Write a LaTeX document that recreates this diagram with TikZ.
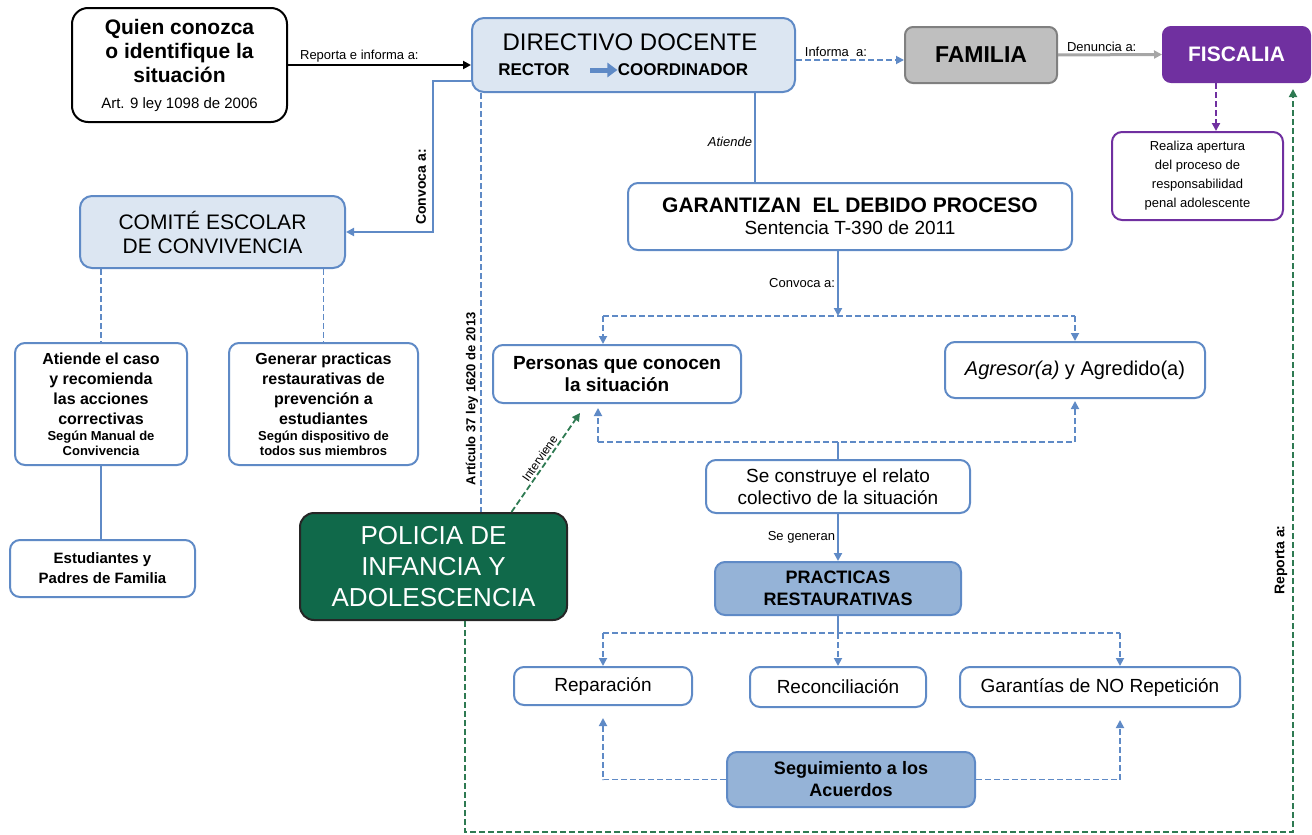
\documentclass[tikz,border=0pt]{standalone}
\usepackage{fontspec}
\setmainfont{Liberation Sans}
\usetikzlibrary{arrows.meta}
\newcommand{\fsz}[2]{\fontsize{#1}{#2}\selectfont}
\definecolor{linkblue}{HTML}{5F8AC6}
\definecolor{paleblue}{HTML}{DCE6F2}
\definecolor{midblue}{HTML}{95B3D7}
\definecolor{policegreen}{HTML}{10694A}
\definecolor{loopgreen}{HTML}{2E7A52}
\definecolor{fispurple}{HTML}{7030A0}
\definecolor{famgray}{HTML}{BFBFBF}
\tikzset{
  box/.style={draw=linkblue, line width=1pt, rounded corners=5pt, fill=white, align=center, inner sep=2pt},
  lightbox/.style={box, fill=paleblue, rounded corners=6pt},
  midbox/.style={box, fill=midblue},
  lbl/.style={font=\fsz{6.5}{7.5}, inner sep=1pt},
  arr/.style={-{Triangle[length=4pt,width=4pt]}},
  link/.style={draw=linkblue, line width=1pt},
  dlink/.style={draw=linkblue, line width=0.9pt, dash pattern=on 3pt off 1.5pt},
  gdlink/.style={draw=loopgreen, line width=0.9pt, dash pattern=on 3pt off 1.5pt},
  pdlink/.style={draw=fispurple, line width=1pt, dash pattern=on 3pt off 1.5pt},
}
\begin{document}
\begin{tikzpicture}[x=0.5pt,y=-0.5pt]
\useasboundingbox (0,0) rectangle (1312,835);
% top row
\node[box, draw=black, rounded corners=8pt, minimum width=107.5pt, minimum height=57pt,
  font=\fsz{10.5}{12}\bfseries] (quien) at (179.5,65)
  {Quien conozca\\o identifique la\\situación\\[1pt]{\fsz{7.5}{8}\mdseries Art. 9 ley 1098 de 2006}};
\node[lightbox, minimum width=161.5pt, minimum height=37pt] (directivo) at (633.5,55) {};
\node[font=\fsz{12}{14}, inner sep=0] (dirtitle) at (630,42) {DIRECTIVO DOCENTE};
\node[font=\fsz{8.5}{10}\bfseries, inner sep=0] (rector) at (534,70) {RECTOR};
\node[font=\fsz{8.5}{10}\bfseries, inner sep=0] (coord) at (683,70) {COORDINADOR};
\node[box, draw=gray, fill=famgray, rounded corners=4pt, minimum width=76pt, minimum height=28pt,
  font=\fsz{11.5}{13}\bfseries] (familia) at (981,55) {FAMILIA};
\node[box, draw=fispurple, fill=fispurple, text=white, rounded corners=4pt, minimum width=73.5pt,
  minimum height=27.5pt, font=\fsz{10.5}{12}\bfseries] (fiscalia) at (1236.5,54.5) {FISCALIA};
\node[box, draw=fispurple, minimum width=85.5pt, minimum height=44pt, font=\fsz{6.5}{9.5}] (realiza)
  at (1197.5,176) {Realiza apertura\\del proceso de\\responsabilidad\\penal adolescente};
\draw[line width=1.3pt, arr] (quien.east) -- (quien.east -| directivo.west)
  node[pos=0.39, above, lbl] {Reporta e informa a:};
\draw[link, line width=2.5pt, -{Triangle[length=5pt,width=7pt]}] ([xshift=10pt]rector.east) -- (coord.west);
\draw[dlink, arr] ([yshift=-2.5pt]directivo.east) -- ([yshift=-2.5pt]familia.west)
  node[pos=0.37, above, lbl] {Informa~~a:};
\draw[draw=gray!70, line width=1.5pt, arr] (familia.east) -- (fiscalia.west)
  node[pos=0.42, above, lbl] {Denuncia a:};
\coordinate (fisx) at (1216,100);
\draw[pdlink, arr] (fiscalia.south -| fisx) -- (realiza.north -| fisx);
% comite
\node[lightbox, minimum width=132.5pt, minimum height=36pt, font=\fsz{10.5}{12}] (comite) at (212.5,232)
  {COMITÉ ESCOLAR\\DE CONVIVENCIA};
\node[box, minimum width=86pt, minimum height=61pt, font=\fsz{8}{10}\bfseries] (atiende) at (101,404)
  {Atiende el caso\\y recomienda\\las acciones\\correctivas\\[-2pt]{\fsz{6.5}{7.5}Según Manual de}\\[-2.5pt]{\fsz{6.5}{7.5}Convivencia}};
\node[box, minimum width=94.5pt, minimum height=61pt, font=\fsz{8}{10}\bfseries] (generar) at (323.5,404)
  {Generar practicas\\restaurativas de\\prevención a\\estudiantes\\[-2pt]{\fsz{6.5}{7.5}Según dispositivo de}\\[-2.5pt]{\fsz{6.5}{7.5}todos sus miembros}};
\node[box, minimum width=92.5pt, minimum height=28.5pt, font=\fsz{7.5}{10}\bfseries] (estud) at (102.5,568.5)
  {Estudiantes y\\Padres de Familia};
\coordinate (convx) at (433,150);
\draw[link, arr] ([yshift=6pt]directivo.south west) -| (convx) |- (comite.east);
\node[lbl, font=\fsz{7}{8}\bfseries, rotate=90] (convlbl) at (421,187) {Convoca a:};
\draw[dlink] (comite.south -| atiende.north) -- (atiende.north);
\draw[dlink] (comite.south -| generar.north) -- (generar.north);
\draw[link] (atiende.south) -- (atiende.south |- estud.north);
% policia
\node[box, draw=black!85, fill=policegreen, text=white, rounded corners=7pt, minimum width=133.5pt,
  minimum height=53.5pt, font=\fsz{13}{15.5}] (policia) at (433.5,566.5)
  {POLICIA DE\\INFANCIA Y\\ADOLESCENCIA};
\coordinate (artx) at (481,300);
\draw[dlink] (directivo.south -| artx) -- (policia.north -| artx)
  node[pos=0.73, rotate=90, anchor=south, lbl, font=\fsz{6.5}{7.5}\bfseries] {Artículo 37 ley 1620 de 2013};
% debido proceso
\node[box, minimum width=222pt, minimum height=33.5pt, font=\fsz{9.5}{11}] (garant) at (850,216.5)
  {{\fsz{10.5}{12}\bfseries GARANTIZAN~~EL DEBIDO PROCESO}\\Sentencia T-390 de 2011};
\coordinate (atx) at (755,140);
\draw[link] (directivo.south -| atx) -- (garant.north -| atx)
  node[pos=0.55, left, lbl, font=\fsz{6.5}{7.5}\itshape] {Atiende};
\node[box, minimum width=124pt, minimum height=29pt, font=\fsz{9.5}{11}\bfseries] (personas) at (617,374)
  {Personas que conocen\\la situación};
\node[box, minimum width=130pt, minimum height=28pt, font=\fsz{10}{12}] (agresor) at (1075,370)
  {\textit{Agresor(a)} y Agredido(a)};
\draw[gdlink, arr] ([xshift=39pt]policia.north) -- ([xshift=-18.5pt,yshift=-4.5pt]personas.south)
  node[midway, above, sloped, lbl, font=\fsz{6}{7}] {Interviene};
\coordinate (tbM) at (838,316);
\coordinate (tbL) at (603,316);
\coordinate (tbR) at (1075,316);
\draw[link, arr] (garant.south -| tbM) -- (tbM) node[midway, left, lbl] {Convoca a:};
\draw[dlink] (tbL) -- (tbR);
\draw[dlink, arr] (tbL) -- (tbL |- personas.north);
\draw[dlink, arr] (tbR) -- (agresor.north);
\node[box, minimum width=132pt, minimum height=26.5pt, font=\fsz{9.5}{11}] (secons) at (838,486.5)
  {Se construye el relato\\colectivo de la situación};
\coordinate (bbL) at (598,442);
\coordinate (bbR) at (1075,442);
\draw[dlink] (bbL) -- (bbR);
\draw[dlink, arr, shorten >=2pt] (bbL) -- (bbL |- personas.south);
\draw[dlink, arr, shorten >=1pt] (bbR) -- (agresor.south);
\draw[link] (secons.north) -- (secons.north |- bbL);
\node[midbox, minimum width=123pt, minimum height=26.5pt, font=\fsz{9}{11}\bfseries] (practicas) at (838,588.5)
  {PRACTICAS\\RESTAURATIVAS};
\draw[link, arr] (secons.south) -- (practicas.north) node[midway, left, lbl] {Se generan};
% restaurativas
\node[box, minimum width=89pt, minimum height=19pt, font=\fsz{9.5}{11}] (reparacion) at (603,686) {Reparación};
\node[box, minimum width=88pt, minimum height=20pt, font=\fsz{9.5}{11}] (reconc) at (838,687) {Reconciliación};
\node[box, minimum width=140pt, minimum height=20pt, font=\fsz{9.5}{11}] (garantias) at (1100,687)
  {Garantías de NO Repetición};
\coordinate (mbL) at (603,633);
\coordinate (mbM) at (838,633);
\coordinate (mbR) at (1120,633);
\draw[link] (practicas.south) -- (mbM);
\draw[dlink] (mbL) -- (mbR);
\draw[dlink, arr] (mbL) -- (reparacion.north);
\draw[dlink, arr] (mbM) -- (reconc.north);
\draw[dlink, arr] (mbR) -- (mbR |- garantias.north);
\node[midbox, minimum width=124pt, minimum height=27.5pt, font=\fsz{9}{11}\bfseries] (seguim) at (851,779.5)
  {Seguimiento a los\\Acuerdos};
\draw[dlink, arr, shorten >=6pt] (seguim.west) -| (reparacion.south);
\draw[dlink, arr, shorten >=6pt] (seguim.east) -| (mbR |- garantias.south);
% reporte a fiscalia
\coordinate (loopL) at (465,832);
\coordinate (loopR) at (1293,832);
\draw[gdlink, arr, shorten >=3pt] (policia.south -| loopL) -- (loopL) -- (loopR) -- (loopR |- fiscalia.south);
\node[lbl, font=\fsz{7}{8}\bfseries, rotate=90] (replbl) at (1281,560) {Reporta a:};
\end{tikzpicture}
\end{document}
